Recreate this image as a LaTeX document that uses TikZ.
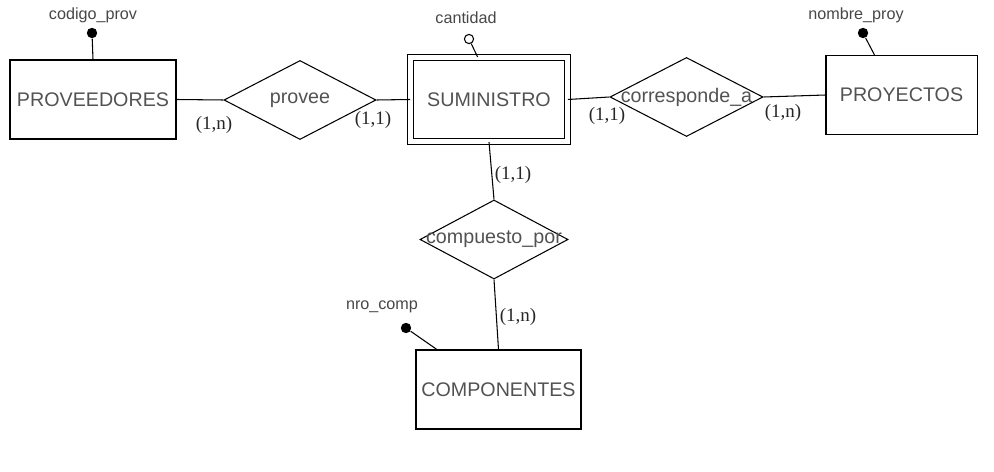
\documentclass[tikz,border=0pt]{standalone}
\usepackage{fontspec}
\setmainfont{Liberation Sans}
\newfontfamily\cardfont{Liberation Serif}
\usetikzlibrary{shapes.geometric,positioning}

\begin{document}
\begin{tikzpicture}[
        x=0.025cm, y=-0.025cm, line width=0.75pt,
        every edge/.append style={-},
        every label/.style={text=black!68,font=\fontsize{14}{16}\selectfont}
    ]

    \tikzstyle{entity} = [rectangle,draw,inner sep=0pt,minimum width=3.775cm,minimum height=1.975cm,text=black!68,font=\fontsize{14}{16}\selectfont]
    \tikzstyle{weak} = [entity,double,double distance=3.4pt,minimum width=3.9125cm,minimum height=2.1cm]
    \tikzstyle{rel} = [diamond,draw,inner sep=0pt,minimum width=3.8cm,minimum height=1.975cm]
    \tikzstyle{attr} = [text=black!72,font=\fontsize{11.5}{13}\selectfont]
    \tikzstyle{keydot} = [circle,fill,inner sep=0pt,minimum size=0.26cm]
    \tikzstyle{plaindot} = [circle,draw,fill=white,inner sep=0pt,minimum size=0.23cm,line width=0.75pt]
    \tikzstyle{card} = [text=black!85,font=\cardfont\fontsize{13.5}{15}\selectfont,inner sep=0pt]

    \useasboundingbox (0,0) rectangle (994,472);

    % entidades y relaciones
    \node[entity,minimum width=4.15cm] (prov) at (93,99.5) {PROVEEDORES};
    \node[rel,label=center:provee] (provee) at (300,100) {};
    \node[weak] (sum) at (489,99.5) {SUMINISTRO};
    \node[rel,minimum width=3.825cm,label=center:corresponde\_a] (corr) at (686.5,97) {};
    \node[entity] (proy) at (901.5,95) {PROYECTOS};
    \node[rel,minimum width=3.7cm,label=center:compuesto\_por] (compu) at (494,239.5) {};
    \node[entity,minimum width=4.125cm] (comp) at (498.5,389.5) {COMPONENTES};

    % atributos
    \node[attr] (codigo) at (93,15) {codigo\_prov};
    \node[keydot] (kcodigo) at (92,33) {};
    \node[attr] (cantidad) at (466,18) {cantidad};
    \node[plaindot] (kcantidad) at (469,39) {};
    \node[attr] (nombre) at (856,15) {nombre\_proy};
    \node[keydot] (knombre) at (863,33) {};
    \node[attr] (nro) at (382,307) {nro\_comp};
    \node[keydot] (knro) at (406,328) {};

    % cardinalidades
    \node[card] (cprov) at (214,125) {(1,n)};
    \node[card] (csum1) at (373,120) {(1,1)};
    \node[card] (csum2) at (607,116) {(1,1)};
    \node[card] (cproy) at (783,113) {(1,n)};
    \node[card] (csum3) at (513,175) {(1,1)};
    \node[card] (ccomp) at (518,317) {(1,n)};

    \path[]
        (prov.east)   edge (provee.west)
        (provee.east) edge (sum.west)
        (sum.east)    edge (corr.west)
        (corr.east)   edge (proy.west)
        (sum.south)   edge (compu.north)
        (compu.south) edge (comp.north)
        (kcodigo)     edge (prov.north)
        (kcantidad)   edge (sum.105)
        (knombre)     edge (proy.124)
        (knro)        edge (comp.147)
    ;

\end{tikzpicture}
\end{document}
